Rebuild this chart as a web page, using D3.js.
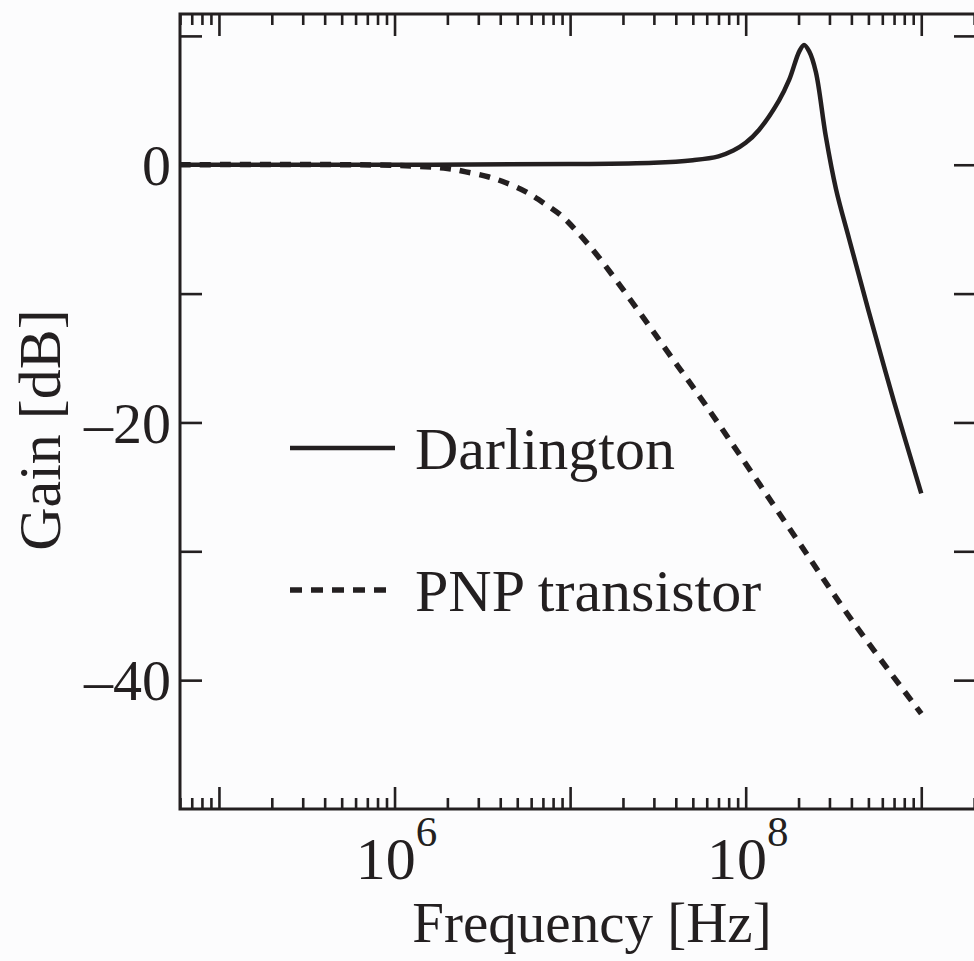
<!DOCTYPE html>
<html>
<head>
<meta charset="utf-8">
<script src="https://cdn.jsdelivr.net/npm/d3@7"></script>
<style>
  body { margin: 0; background: #fcfcfd; }
  svg { display: block; font-family: "Liberation Serif", "DejaVu Serif", serif; }
</style>
</head>
<body>
<svg id="chart"></svg>
<script>
(function(){

  // DATA ////////////////////////////////////////////////////////////////////

  var freqDarlington = [6e4, 1e6, 1e7, 3e7, 5e7, 7e7, 8.5e7, 1e8, 1.19e8, 1.55e8, 1.77e8, 2.02e8, 2.15e8, 2.3e8, 2.51e8, 2.86e8, 3.27e8, 3.89e8, 5e8, 7e8, 1e9];
  var gainDarlington = [0, 0, 0.05, 0.15, 0.35, 0.65, 1.1, 1.7, 2.7, 5.0, 6.6, 8.8, 9.3, 8.8, 7.2, 2.2, -1.9, -5.8, -11.3, -18.4, -25.5];

  var freqPnp = [6e4, 1e6, 2e6, 2.55e6, 3.45e6, 4.31e6, 5.61e6, 7.3e6, 9e6, 1.08e7, 1.46e7, 2.47e7, 3.67e7, 5.88e7, 1.94e8, 4e8, 1e9];
  var gainPnp = [0, -0.05, -0.3, -0.55, -0.95, -1.4, -2.1, -3.1, -4.0, -5.1, -7.2, -11.4, -14.7, -18.6, -29.0, -35.3, -42.6];

  var xMajorTicks = [1e5, 1e6, 1e7, 1e8, 1e9];
  var xLabelTicks = [1e6, 1e8];
  var yTicks = [10, 0, -10, -20, -30, -40];
  var yLabelTicks = [0, -20, -40];

  var legendNames = ["Darlington", "PNP transistor"];

  // SETUP ///////////////////////////////////////////////////////////////////

  var width = 974, height = 961;
  var left = 180, right = 976, top = 14, bottom = 809;
  var ink = "#231f20";

  var svg = d3.select("#chart").attr("width", width).attr("height", height);

  var x = d3.scaleLog().domain([6e4, 2.05e9]).range([left, right]);
  var y = d3.scaleLinear().domain([-50, 11.7]).range([bottom, top]);

  var minorTicks = x.ticks().filter(function(t){
    return xMajorTicks.indexOf(t) === -1;
  });

  // AXES ////////////////////////////////////////////////////////////////////

  function styleAxis(g){
    g.select(".domain").remove();
    g.selectAll("line").attr("stroke", ink).attr("stroke-width", 2.6);
    g.selectAll("text").remove();
  }

  svg.append("g").attr("transform", "translate(0," + bottom + ")")
    .call(d3.axisBottom(x).tickValues(xMajorTicks).tickSize(-22)).call(styleAxis);
  svg.append("g").attr("transform", "translate(0," + bottom + ")")
    .call(d3.axisBottom(x).tickValues(minorTicks).tickSize(-11)).call(styleAxis);
  svg.append("g").attr("transform", "translate(0," + top + ")")
    .call(d3.axisTop(x).tickValues(xMajorTicks).tickSize(-22)).call(styleAxis);
  svg.append("g").attr("transform", "translate(0," + top + ")")
    .call(d3.axisTop(x).tickValues(minorTicks).tickSize(-11)).call(styleAxis);
  svg.append("g").attr("transform", "translate(" + left + ",0)")
    .call(d3.axisLeft(y).tickValues(yTicks).tickSize(-22)).call(styleAxis);
  svg.append("g").attr("transform", "translate(" + right + ",0)")
    .call(d3.axisRight(y).tickValues(yTicks).tickSize(-22)).call(styleAxis);

  svg.append("rect")
    .attr("x", left).attr("y", top)
    .attr("width", right - left).attr("height", bottom - top)
    .attr("fill", "none").attr("stroke", ink).attr("stroke-width", 3);

  // tick labels
  svg.selectAll(".ylabel").data(yLabelTicks).enter().append("text")
    .attr("x", left - 9)
    .attr("y", function(d){ return y(d); })
    .attr("dy", "0.35em")
    .attr("text-anchor", "end")
    .attr("font-size", 58)
    .attr("fill", ink)
    .text(function(d){ return d < 0 ? "\u2013" + Math.abs(d) : d; });

  var xl = svg.selectAll(".xlabel").data(xLabelTicks).enter().append("text")
    .attr("x", function(d){ return x(d) + 2; })
    .attr("y", 879)
    .attr("text-anchor", "middle")
    .attr("font-size", 60)
    .attr("fill", ink);
  xl.append("tspan").text("10");
  xl.append("tspan")
    .attr("dy", -33)
    .attr("font-size", 43)
    .text(function(d){ return Math.round(Math.log10(d)); });

  svg.append("text")
    .attr("x", 592)
    .attr("y", 942)
    .attr("text-anchor", "middle")
    .attr("font-size", 57)
    .attr("fill", ink)
    .text("Frequency [Hz]");

  svg.append("text")
    .attr("transform", "translate(60,430) rotate(-90)")
    .attr("text-anchor", "middle")
    .attr("font-size", 60)
    .attr("fill", ink)
    .text("Gain [dB]");

  // CURVES //////////////////////////////////////////////////////////////////

  var line = d3.line()
    .x(function(d){ return x(d[0]); })
    .y(function(d){ return y(d[1]); })
    .curve(d3.curveCatmullRom.alpha(0.5));

  svg.append("path")
    .datum(d3.zip(freqPnp, gainPnp))
    .attr("d", line)
    .attr("fill", "none")
    .attr("stroke", ink)
    .attr("stroke-width", 5.5)
    .attr("stroke-dasharray", "11,9");

  svg.append("path")
    .datum(d3.zip(freqDarlington, gainDarlington))
    .attr("d", line)
    .attr("fill", "none")
    .attr("stroke", ink)
    .attr("stroke-width", 4.5);

  // LEGEND //////////////////////////////////////////////////////////////////

  var legend = svg.selectAll(".legend").data(legendNames).enter().append("g")
    .attr("transform", function(d, i){ return "translate(290," + (448 + i * 142) + ")"; });

  legend.append("line")
    .attr("x1", 0).attr("x2", function(d, i){ return i ? 100 : 105; })
    .attr("y1", 0).attr("y2", 0)
    .attr("stroke", ink)
    .attr("stroke-width", function(d, i){ return i ? 5.5 : 4.5; })
    .attr("stroke-dasharray", function(d, i){ return i ? "12,9" : null; });

  legend.append("text")
    .attr("x", 125)
    .attr("dy", "0.35em")
    .attr("font-size", 60)
    .attr("fill", ink)
    .text(function(d){ return d; });

})();
</script>
</body>
</html>
